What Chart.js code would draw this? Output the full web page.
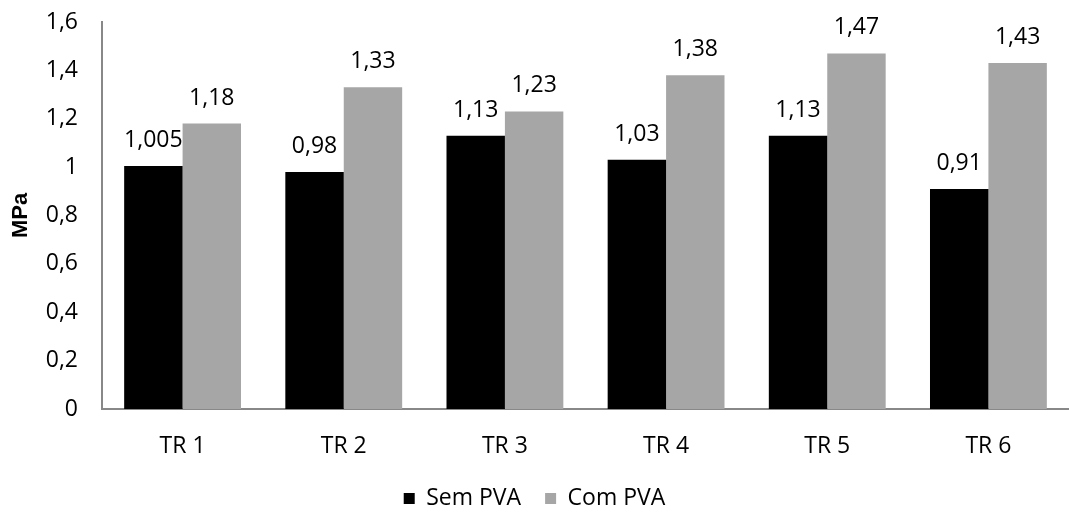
<!DOCTYPE html>
<html>
<head>
<meta charset="utf-8">
<script src="https://cdn.jsdelivr.net/npm/chart.js@4"></script>
<style>
  html, body { margin: 0; padding: 0; background: #fff; }
  #wrap { width: 1069px; height: 514px; }
</style>
</head>
<body>
<div id="wrap"><canvas id="mpaChart"></canvas></div>
<script>
// dados do gráfico
const categorias = ['TR 1', 'TR 2', 'TR 3', 'TR 4', 'TR 5', 'TR 6'];
const semPVA = [1.005, 0.98, 1.13, 1.03, 1.13, 0.91];
const comPVA = [1.18, 1.33, 1.23, 1.38, 1.47, 1.43];
const rotulosSem = ['1,005', '0,98', '1,13', '1,03', '1,13', '0,91'];
const rotulosCom = ['1,18', '1,33', '1,23', '1,38', '1,47', '1,43'];

const fonte = "'Open Sans', 'Noto Sans', sans-serif";

// rótulos de valor acima das barras
const valorLabels = {
  id: 'valorLabels',
  afterDatasetsDraw(chart) {
    const ctx = chart.ctx;
    ctx.save();
    ctx.font = '23px ' + fonte;
    ctx.fillStyle = '#000';
    ctx.textAlign = 'center';
    ctx.textBaseline = 'alphabetic';
    const textos = [rotulosSem, rotulosCom];
    chart.data.datasets.forEach((ds, i) => {
      chart.getDatasetMeta(i).data.forEach((bar, j) => {
        ctx.fillText(textos[i][j], bar.x, bar.y - 19);
      });
    });
    ctx.restore();
  }
};

const ctx = document.getElementById('mpaChart').getContext('2d');
new Chart(ctx, {
  type: 'bar',
  data: {
    labels: categorias,
    datasets: [
      { label: 'Sem PVA', data: semPVA, backgroundColor: '#000000' },
      { label: 'Com PVA', data: comPVA, backgroundColor: '#a6a6a6' }
    ]
  },
  options: {
    responsive: true,
    maintainAspectRatio: false,
    animation: false,
    layout: { padding: { top: 0, right: 0, bottom: -6 } },
    datasets: { bar: { categoryPercentage: 0.725, barPercentage: 1.0 } },
    scales: {
      x: {
        grid: { display: false, drawTicks: false },
        border: { color: '#888', width: 2 },
        ticks: { color: '#000', font: { family: fonte, size: 23 }, padding: 24 },
        afterFit(scale) { scale.height = 54; }
      },
      y: {
        min: 0,
        max: 1.6,
        grid: { display: false, drawTicks: false },
        border: { color: '#888', width: 2 },
        ticks: {
          stepSize: 0.2,
          color: '#000',
          padding: 24,
          font: { family: fonte, size: 23 },
          callback: v => (Math.round(v * 10) / 10).toString().replace('.', ',')
        },
        title: {
          display: true,
          text: 'MPa',
          color: '#000',
          font: { family: "'Liberation Sans', Arial, sans-serif", size: 22, weight: 'bold' },
          padding: { top: 8, bottom: 0 }
        },
        afterFit(scale) {
          scale.width = 102;
          scale.paddingTop = 22; // topo do eixo em y=22 como no original
        }
      }
    },
    plugins: {
      legend: {
        position: 'bottom',
        labels: {
          color: '#000',
          font: { family: fonte, size: 23, lineHeight: 1.0 },
          boxWidth: 11,
          boxHeight: 11,
          padding: 24
        }
      },
      tooltip: { enabled: false }
    }
  },
  plugins: [valorLabels]
});
</script>
</body>
</html>
